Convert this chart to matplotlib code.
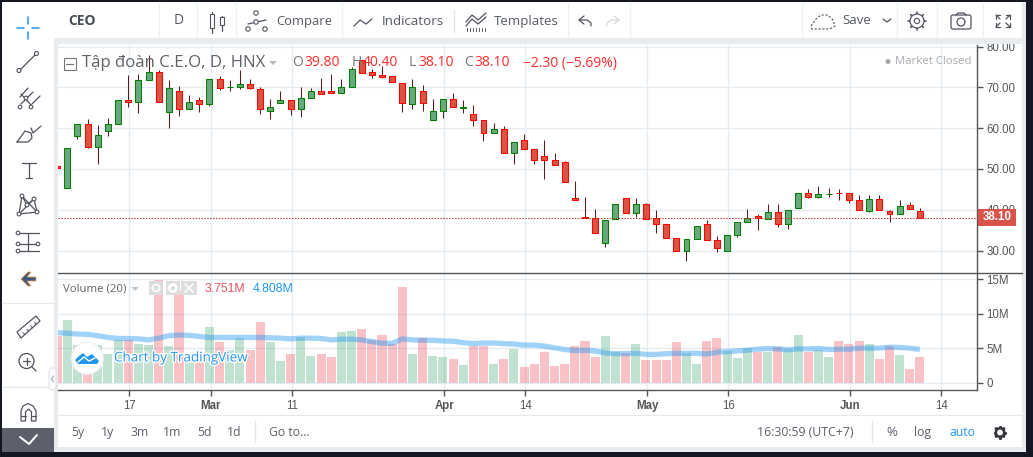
"""TradingView-style CEO daily candlestick chart with volume pane."""

import matplotlib

matplotlib.use("Agg")
import matplotlib.pyplot as plt
import matplotlib.patheffects as pe
from matplotlib.patches import Circle, FancyBboxPatch, Polygon, Rectangle

W, H = 1033, 457

# daily bars
opens = [50.7, 45.4, 58.0, 60.9, 55.4, 59.3, 61.1, 66.9, 66.5, 71.9, 73.7, 64.0, 69.0, 64.8, 66.8, 65.8,
         72.0, 70.0, 70.2, 70.7, 69.5, 64.3, 66.1, 67.0, 64.6, 67.3, 69.0, 69.0, 68.5, 70.2, 76.6, 73.7,
         73.0, 72.7, 71.1, 65.8, 69.0, 62.1, 64.1, 67.1, 65.0, 63.4, 61.9, 58.7, 59.9, 54.0, 57.0, 55.0,
         53.1, 52.1, 51.6, 42.8, 38.2, 38.1, 31.9, 37.8, 43.0, 39.3, 41.3, 38.1, 36.4, 33.2, 30.0, 32.9,
         36.6, 32.7, 30.0, 33.7, 37.1, 38.4, 37.8, 39.5, 36.6, 40.5, 44.1, 43.2, 43.8, 44.1, 44.1, 42.4,
         39.8, 42.7, 39.8, 39.0, 41.2, 39.8]
highs = [50.7, 55.2, 60.9, 62.2, 60.7, 62.5, 67.0, 73.0, 73.3, 78.0, 74.3, 71.8, 70.3, 68.1, 67.7, 72.0,
         72.8, 71.8, 74.3, 72.0, 70.1, 67.1, 69.1, 67.0, 70.1, 69.8, 72.3, 73.3, 72.0, 74.9, 76.6, 74.5,
         75.3, 72.9, 71.1, 72.0, 70.6, 67.1, 67.1, 68.6, 66.8, 65.7, 62.1, 61.2, 60.5, 56.7, 58.5, 55.0,
         57.1, 54.0, 51.9, 47.0, 43.1, 40.1, 37.6, 41.3, 43.0, 42.8, 41.6, 39.9, 36.4, 33.2, 32.9, 36.1,
         37.6, 33.5, 33.7, 37.1, 40.1, 38.9, 41.5, 41.3, 40.0, 44.1, 45.0, 45.9, 45.4, 45.0, 44.1, 43.5,
         43.5, 43.5, 40.0, 42.5, 41.8, 40.4]
lows = [50.3, 45.4, 57.4, 55.2, 51.1, 58.0, 61.1, 65.2, 63.8, 71.9, 66.3, 60.1, 63.0, 64.8, 64.0, 65.5,
        69.3, 69.2, 69.6, 69.6, 63.4, 62.2, 66.1, 63.3, 62.7, 67.3, 68.3, 68.5, 68.5, 70.2, 73.4, 72.4,
        72.4, 71.2, 64.0, 64.8, 64.3, 62.1, 62.6, 65.1, 63.8, 60.6, 56.9, 58.7, 54.0, 51.3, 55.0, 51.3,
        47.6, 50.9, 46.9, 42.3, 38.1, 34.2, 30.9, 37.8, 39.3, 38.2, 37.8, 34.3, 33.2, 30.0, 27.5, 32.9,
        32.7, 29.7, 30.0, 33.3, 37.1, 35.0, 37.8, 35.8, 35.3, 40.5, 42.8, 42.8, 43.1, 42.4, 41.6, 40.0,
        39.4, 40.0, 37.0, 39.0, 40.2, 38.1]
closes = [50.3, 55.2, 60.9, 55.4, 58.4, 60.9, 67.0, 66.5, 71.7, 73.7, 66.3, 69.8, 64.8, 66.3, 65.8, 72.0,
          69.9, 70.2, 70.7, 69.9, 64.6, 65.1, 66.8, 64.6, 67.3, 69.0, 68.3, 68.5, 70.0, 74.4, 73.4, 73.0,
          72.6, 71.2, 66.1, 70.2, 66.1, 64.1, 67.1, 65.1, 65.1, 61.9, 58.7, 59.7, 54.0, 56.5, 55.0, 52.1,
          52.1, 51.0, 46.9, 42.3, 38.1, 34.2, 37.6, 41.3, 39.3, 41.3, 37.8, 36.4, 33.2, 30.0, 32.9, 36.1,
          32.7, 30.7, 33.7, 37.1, 38.0, 38.0, 39.5, 36.6, 40.0, 44.1, 43.2, 43.9, 43.9, 44.0, 42.4, 40.0,
          42.7, 40.0, 39.0, 41.0, 40.2, 38.1]
volumes = [6.8, 9.1, 5.5, 3.0, 5.5, 4.2, 6.2, 6.2, 5.6, 5.5, 14.8, 5.3, 13.3, 3.9, 4.0, 8.1,
           5.9, 4.7, 6.5, 4.7, 8.8, 5.9, 3.1, 4.2, 6.6, 3.9, 4.2, 3.7, 7.4, 7.5, 7.8, 6.2,
           6.9, 5.6, 13.9, 4.2, 6.5, 3.9, 3.7, 3.4, 2.6, 5.3, 5.3, 2.7, 3.4, 4.9, 2.3, 2.7,
           4.5, 2.4, 2.7, 5.3, 6.0, 3.7, 6.8, 4.5, 4.3, 5.6, 3.3, 3.3, 3.3, 5.9, 4.3, 2.7,
           6.0, 6.5, 4.6, 3.6, 5.0, 4.5, 4.5, 5.2, 4.9, 6.9, 4.5, 4.7, 3.7, 6.0, 5.6, 6.0,
           5.6, 3.4, 5.3, 4.0, 2.0, 3.75]
volume_ma = [7.25, 7.15, 7.05, 7.0, 6.8, 6.55, 6.4, 6.4, 6.35, 6.2, 6.45, 6.8, 6.9, 6.85, 6.7, 6.55,
             6.55, 6.55, 6.55, 6.55, 6.55, 6.5, 6.45, 6.35, 6.45, 6.45, 6.4, 6.2, 6.3, 6.3, 6.2, 5.95,
             5.7, 5.7, 6.35, 6.2, 6.15, 6.15, 6.05, 6.0, 5.8, 5.65, 5.75, 5.75, 5.65, 5.6, 5.45, 5.45,
             5.3, 5.05, 4.8, 4.65, 4.7, 4.6, 4.3, 4.2, 4.2, 4.25, 4.1, 4.1, 4.2, 4.25, 4.25, 4.25,
             4.15, 4.4, 4.5, 4.6, 4.7, 4.85, 4.95, 4.9, 4.75, 4.9, 4.9, 4.95, 4.8, 4.85, 4.85, 5.0,
             5.0, 5.0, 5.15, 5.1, 5.0, 4.81]
last_close = 38.10

price_ticks = [30, 40, 50, 60, 70, 80]
volume_ticks = [0, 5, 10, 15]
volume_tick_labels = ["0", "5M", "10M", "15M"]
date_ticks = [7, 15, 23, 38, 46, 58, 66, 78, 87]
date_labels = ["17", "Mar", "11", "Apr", "14", "May", "16", "Jun", "14"]
month_labels = {"Mar", "Apr", "May", "Jun"}

DARK = "#131722"
GAP = "#e9ecef"
GRID = "#e3ecf3"
AXIS = "#555555"
TEXT = "#555a63"
ICON = "#50535e"
UP_FILL, UP_EDGE = "#6aa77f", "#008000"
DOWN_FILL, DOWN_EDGE = "#da5444", "#ff0000"
WICK = "#5b1c1c"
RED_TEXT = "#ff2a2a"
BLUE = "#2196f3"
UI_FONT = "Open Sans"
AXIS_FONT = "Liberation Sans"


def px_axes(left, top, right, bottom, **kwargs):
    return fig.add_axes([left / W, 1 - bottom / H, (right - left) / W, (bottom - top) / H], **kwargs)


def box(ax, x0, y0, x1, y1, color, **kwargs):
    ax.add_patch(Rectangle((x0, y0), x1 - x0, y1 - y0, facecolor=color, edgecolor="none", **kwargs))


def stroke(ax, xs, ys, color=ICON, lw=0.9, **kwargs):
    ax.plot(xs, ys, color=color, lw=lw, solid_capstyle="round", **kwargs)


def node(ax, x, y, r=2.0, color=ICON):
    ax.add_patch(Circle((x, y), r, facecolor="white", edgecolor=color, lw=0.8, zorder=4))


def label(ax, x, y, s, color=TEXT, size=9.0, ha="left", **kwargs):
    kwargs.setdefault("family", UI_FONT)
    return ax.text(x, y, s, color=color, fontsize=size, ha=ha, va="center", **kwargs)


def gear(ax, x, y, r, color, lw):
    # spokes first, then the ring and a white hub on top
    for dx, dy in ((1, 0), (0, 1), (0.7, 0.7), (0.7, -0.7)):
        stroke(ax, [x - r * dx * 1.3, x + r * dx * 1.3], [y - r * dy * 1.3, y + r * dy * 1.3], color=color, lw=lw * 1.3)
    ax.add_patch(Circle((x, y), r, facecolor="white", edgecolor=color, lw=lw, zorder=4))


def draw_chrome(ax):
    box(ax, 2, 2, 54, 428, "white")
    box(ax, 2, 428, 54, 452, "#5d606b")
    box(ax, 54, 2, 1026, 452, GAP)
    box(ax, 54, 2, 1022, 38, "white")
    box(ax, 58, 44, 1022, 447, "white")
    ax.plot([2, 54], [303, 303], color="#e6e8ec", lw=0.9)
    ax.plot([2, 54], [387, 387], color="#e6e8ec", lw=0.9)
    for x in (159, 197, 236, 342, 568, 630, 802, 897, 937, 983):
        ax.plot([x, x], [2, 38], color="#eef0f3", lw=0.9)
    ax.plot([454, 454], [10, 32], color="#e2e4e8", lw=0.9)
    ax.plot([58, 1022], [415, 415], color="#e6e8ec", lw=0.9)
    ax.plot([255, 255], [421, 442], color="#e2e4e8", lw=0.9)
    ax.plot([872, 872], [421, 442], color="#e2e4e8", lw=0.9)


def draw_left_tools(ax):
    # crosshair
    for xs, ys in (([17, 24], [28, 28]), ([32, 39], [28, 28]), ([28, 28], [17, 24]), ([28, 28], [32, 39])):
        stroke(ax, xs, ys, color=BLUE, lw=1.1)
    # trend line
    stroke(ax, [19, 37], [71, 53])
    node(ax, 19, 70.5)
    node(ax, 36.5, 53.5)
    # fork
    stroke(ax, [20, 28], [97, 88])
    stroke(ax, [21, 33], [104, 92])
    stroke(ax, [32, 40], [104, 96])
    stroke(ax, [21, 31], [94, 105])
    for x, y in ((20, 107), (31, 107), (26, 98)):
        node(ax, x, y, 1.8)
    # brush
    stroke(ax, [17, 25, 31, 32, 28, 17], [142, 131, 133, 138, 142, 142])
    stroke(ax, [31, 33, 41], [128, 133, 126])
    # text tool
    stroke(ax, [22, 36], [163, 163])
    stroke(ax, [29, 29], [163, 178])
    stroke(ax, [26, 32], [178, 178])
    # xabcd pattern
    px = [19, 22, 27, 34, 37, 19]
    py = [214, 196, 205, 199, 212, 214]
    stroke(ax, px, py)
    stroke(ax, [22, 37], [196, 212])
    stroke(ax, [19, 34], [214, 199])
    for x, y in zip(px[:5], py[:5]):
        node(ax, x, y, 1.9)
    # position tool
    for y in (233, 244, 251):
        stroke(ax, [18, 39], [y, y])
    stroke(ax, [28, 28], [234, 251])
    for x, y in ((18, 233), (18, 244), (38, 244), (18, 251)):
        node(ax, x, y, 1.8)
    # back arrow
    ax.add_patch(Polygon([[21, 279], [28, 272], [31, 272], [27, 277], [36, 277], [36, 281], [27, 281], [31, 286], [28, 286]],
                         facecolor="#3f5a80", edgecolor="#e99a45", lw=0.5))
    # ruler
    ax.add_patch(Polygon([[17, 332], [36, 316], [40, 321], [21, 338]], facecolor="white", edgecolor=ICON, lw=0.9))
    for t in (0.2, 0.4, 0.6, 0.8):
        bx, by = 21 + 19 * t, 338 - 17 * t
        stroke(ax, [bx, bx - 1.6], [by, by - 2], lw=0.7)
    # zoom
    ax.add_patch(Circle((26.5, 361), 7.5, facecolor="white", edgecolor=ICON, lw=0.9))
    stroke(ax, [32, 36], [367, 371])
    stroke(ax, [23, 30], [361, 361])
    stroke(ax, [26.5, 26.5], [357.5, 364.5])
    # magnet
    ax.add_patch(Polygon([[21, 421], [21, 411], [23, 406], [28, 403.5], [33, 406], [36, 411], [36, 421], [31.5, 421],
                          [31.5, 412], [28.5, 409], [25.5, 412], [25.5, 421]], facecolor="white", edgecolor=ICON, lw=0.9))
    stroke(ax, [21, 25.5], [416, 416])
    stroke(ax, [31.5, 36], [416, 416])
    # collapse tab
    ax.add_patch(FancyBboxPatch((49, 368), 7, 22, boxstyle="round,pad=0,rounding_size=3",
                                facecolor="white", edgecolor="#dfe2e6", lw=0.8, zorder=4))
    stroke(ax, [53.5, 51.5, 53.5], [376, 379, 382], color="#9db4c8", zorder=5)
    # lock tab
    stroke(ax, [20, 29, 37], [437, 444, 435], color="white", lw=1.4)


def draw_top_bar(ax):
    label(ax, 68, 21, "CEO", color="#4a4e58", size=10, weight="bold")
    label(ax, 179, 21, "D", size=10, ha="center")
    # candle icon
    for x, y0, y1, w0, w1 in ((212, 14, 28, 12, 33), (222, 17, 25, 16, 31)):
        ax.add_patch(Rectangle((x - 2, y0), 4, y1 - y0, facecolor="white", edgecolor=ICON, lw=0.8, zorder=4))
        stroke(ax, [x, x], [w0, w1])
    # compare icon
    stroke(ax, [248, 266], [24, 20])
    for x, y in ((256, 13), (256, 22), (248, 29), (265, 29)):
        node(ax, x, y, 2.2)
    label(ax, 276, 21.5, "Compare", size=9.4)
    # indicators icon
    stroke(ax, [354, 360, 366, 372], [26, 20, 24, 19])
    label(ax, 382, 21.5, "Indicators", size=9.6)
    # templates icon
    stroke(ax, [466, 472, 478, 486], [22, 15, 20, 13])
    stroke(ax, [466, 472, 478, 486], [26, 19, 24, 17])
    for x in range(467, 486, 3):
        stroke(ax, [x, x], [31, 28], lw=0.7)
    label(ax, 494, 21.5, "Templates", size=9.5)
    # undo and redo
    stroke(ax, [584, 579, 584], [16, 20, 24])
    stroke(ax, [579, 587, 591, 591], [20, 20, 23, 26])
    stroke(ax, [614, 619, 614], [16, 20, 24], color="#d5d7dc")
    stroke(ax, [619, 611, 607, 607], [20, 20, 23, 26], color="#d5d7dc")
    # save
    ax.plot([811, 816, 821, 828, 833, 835, 830, 812, 811], [26, 19, 15, 15, 20, 26, 29, 29, 26], color=ICON, lw=0.8, ls=(0, (2, 1.5)))
    label(ax, 842, 21, "Save", size=9.6)
    stroke(ax, [883, 887, 891], [19, 22, 19])
    # settings gear
    gear(ax, 917, 21, 7, ICON, 0.9)
    ax.add_patch(Circle((917, 21), 2.6, facecolor="white", edgecolor=ICON, lw=0.8, zorder=5))
    # camera
    ax.add_patch(FancyBboxPatch((951, 15), 20, 14, boxstyle="round,pad=0,rounding_size=2", facecolor="white", edgecolor=ICON, lw=0.9))
    ax.add_patch(Circle((961, 22), 4, facecolor="white", edgecolor=ICON, lw=0.9))
    stroke(ax, [956, 958, 964, 966], [15, 13, 13, 15])
    # fullscreen
    for sx, sy in ((-1, -1), (1, -1), (-1, 1), (1, 1)):
        cx, cy = 1003 + 7 * sx, 21 + 6 * sy
        stroke(ax, [cx - 4 * sx, cx, cx], [cy, cy, cy - 4 * sy])
        stroke(ax, [cx, cx - 4 * sx], [cy, cy - 4 * sy])


def draw_legends(ax):
    # symbol line
    ax.add_patch(Rectangle((63.5, 57.5), 12, 12, facecolor="none", edgecolor="#777777", lw=0.8))
    stroke(ax, [66, 73], [63.5, 63.5], color="#777777")
    label(ax, 82, 63, "Tập đoàn C.E.O, D, HNX", color="#5f6267", size=12.1)
    ax.add_patch(Polygon([[269, 61], [277, 61], [273, 65]], facecolor="#b5b8bd", edgecolor="none"))
    for x, s, c in ((292, "O", "#777777"), (304, "39.80", RED_TEXT), (352, "H", "#777777"), (363, "40.40", RED_TEXT),
                    (409, "L", "#777777"), (418, "38.10", RED_TEXT), (464, "C", "#777777"), (474, "38.10", RED_TEXT),
                    (523, "−2.30 (−5.69%)", RED_TEXT)):
        label(ax, x, 63, s, color=c, size=10.0)
    ax.add_patch(Circle((888, 61.5), 2.5, facecolor="#a3a6ad", edgecolor="none"))
    label(ax, 895, 61.5, "Market Closed", color="#a8abb0", size=8.2)
    # volume line
    label(ax, 63, 289, "Volume (20)", color="#5f6267", size=8.2)
    ax.add_patch(Polygon([[131, 287], [139, 287], [135, 291]], facecolor="#c5c7cb", edgecolor="none"))
    for x0, x1 in ((149, 163), (166, 180), (181, 197)):
        box(ax, x0, 281, x1, 295, "#dddddd", zorder=4)
    ax.add_patch(Circle((156, 288), 3.5, facecolor="none", edgecolor="white", lw=1.2, zorder=5))
    ax.add_patch(Circle((173, 288), 3.5, facecolor="none", edgecolor="white", lw=2.0, zorder=5))
    stroke(ax, [185, 193], [284, 292], color="white", lw=1.2, zorder=5)
    stroke(ax, [185, 193], [292, 284], color="white", lw=1.2, zorder=5)
    label(ax, 205, 289, "3.751M", color="#e8505f", size=8.8, family=AXIS_FONT)
    label(ax, 253, 289, "4.808M", color=BLUE, size=8.8, family=AXIS_FONT)
    # watermark
    ax.add_patch(Circle((87.3, 358.3), 16, facecolor="white", edgecolor="#eceef1", lw=0.8, zorder=4))
    ax.add_patch(Polygon([[78, 364], [75, 360], [79, 356], [83, 353], [87, 357], [92, 354], [99, 361], [97, 364]],
                         facecolor=BLUE, edgecolor="none", zorder=5))
    stroke(ax, [78, 84, 89, 95], [362, 357, 361, 358], color="white", lw=1.0, zorder=6)
    label(ax, 114, 358, "Chart by TradingView", color=BLUE, size=9.7, zorder=5,
          path_effects=[pe.withStroke(linewidth=2, foreground="white")])


def draw_bottom_bar(ax):
    for x, s in ((71, "5y"), (101, "1y"), (130, "3m"), (163, "1m"), (197, "5d"), (227, "1d"), (269, "Go to...")):
        label(ax, x, 432.5, s, color="#5c5f6a", size=8.8)
    label(ax, 757, 432.5, "16:30:59 (UTC+7)", color="#5c5f6a", size=8.8)
    label(ax, 886, 432.5, "%", color="#5c5f6a", size=9.5)
    label(ax, 914, 432.5, "log", color="#5c5f6a", size=8.8)
    label(ax, 949, 432.5, "auto", color=BLUE, size=8.8)
    gear(ax, 1000, 432.5, 4.2, "#33363e", 1.8)


fig = plt.figure(figsize=(W / 100, H / 100), dpi=100, facecolor=DARK)

back = px_axes(0, 0, W, H, zorder=0)
back.set_xlim(0, W)
back.set_ylim(H, 0)
back.axis("off")
draw_chrome(back)

ax_price = px_axes(58, 45, 977.3, 272.8, zorder=1)
ax_vol = px_axes(58, 273.8, 977.3, 390, zorder=1)
xs = list(range(len(closes)))
x_lim = (0.08, 90.65)
grid_pos = [t + 0.12 for t in date_ticks]

for ax in (ax_price, ax_vol):
    ax.set_facecolor("none")
    ax.set_xlim(*x_lim)
    ax.yaxis.tick_right()
    ax.set_axisbelow(True)
    ax.grid(True, color=GRID, lw=1.0)
    for side in ("top", "left"):
        ax.spines[side].set_visible(False)
    ax.spines["right"].set_color(AXIS)
    ax.spines["right"].set_linewidth(1.0)
    ax.set_xticks(grid_pos)

# candlesticks
ax_price.set_ylim(24.55, 80.38)
ax_price.spines["bottom"].set_visible(False)
ax_price.tick_params(axis="x", length=0, labelbottom=False)
ax_price.set_yticks(price_ticks)
ax_price.set_yticklabels([f"{t:.2f}" for t in price_ticks])
up = [c >= o for o, c in zip(opens, closes)]
ax_price.vlines(xs, lows, highs, color=WICK, lw=0.75, zorder=2)
ax_price.bar(xs, [abs(c - o) for o, c in zip(opens, closes)], bottom=[min(o, c) for o, c in zip(opens, closes)],
             width=0.59, color=[UP_FILL if u else DOWN_FILL for u in up],
             edgecolor=[UP_EDGE if u else DOWN_EDGE for u in up], lw=0.75, zorder=3)
ax_price.axhline(last_close, color="#b5362c", lw=0.7, ls=(0, (1.5, 1.5)), zorder=4)

# volume pane
ax_vol.set_ylim(-1.06, 15.77)
ax_vol.set_yticks(volume_ticks)
ax_vol.set_yticklabels(volume_tick_labels)
ax_vol.spines["bottom"].set_color(AXIS)
ax_vol.spines["bottom"].set_linewidth(1.0)
ax_vol.bar(xs, volumes, width=0.89, color=["#2e9e63" if u else "#e9303f" for u in up], alpha=0.29, lw=0, zorder=2)
ax_vol.plot(xs, volume_ma, color=BLUE, alpha=0.42, lw=3.8, zorder=3, solid_capstyle="butt")
ax_vol.set_xticklabels(date_labels)
for tick_label in ax_vol.get_xticklabels():
    if tick_label.get_text() in month_labels:
        tick_label.set_fontweight("bold")

for ax in (ax_price, ax_vol):
    ax.tick_params(axis="y", length=4, width=1.0, color=AXIS, labelcolor="#555555", labelsize=8.3, pad=2.5)
    for tick_label in ax.get_yticklabels():
        tick_label.set_family(AXIS_FONT)
ax_vol.tick_params(axis="x", length=4, width=1.0, color=AXIS, labelcolor="#555555", labelsize=8.3, pad=3.2)
for tick_label in ax_vol.get_xticklabels():
    tick_label.set_family(AXIS_FONT)

top = px_axes(0, 0, W, H, zorder=3)
top.set_xlim(0, W)
top.set_ylim(H, 0)
top.axis("off")
top.patch.set_alpha(0)
box(top, 58, 38, 1022, 44, GAP)
top.plot([58, 1022], [273.3, 273.3], color=AXIS, lw=1.0)
# last price tag
box(top, 977.5, 209.3, 1016, 226, "#d9534a", zorder=4)
label(top, 997, 217.3, f"{last_close:.2f}", color="white", size=8.3, ha="center", weight="bold", family=AXIS_FONT, zorder=5)
draw_left_tools(top)
draw_top_bar(top)
draw_legends(top)
draw_bottom_bar(top)

fig.savefig("out.png", dpi=100, facecolor=fig.get_facecolor())
